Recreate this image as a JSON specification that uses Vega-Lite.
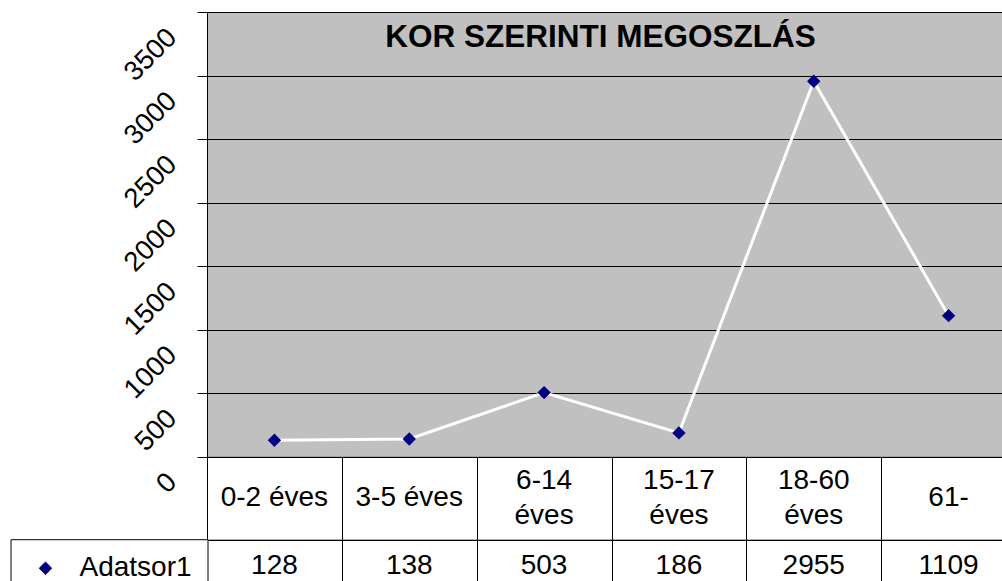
{
  "$schema": "https://vega.github.io/schema/vega-lite/v6.json",
  "background": "white",
  "padding": {"left": 10, "top": 11, "right": 0, "bottom": 0},
  "spacing": 0,
  "bounds": "flush",
  "datasets": {
    "kor": [
      {"korcsoport": "0-2 éves", "felirat": "0-2 éves", "fo": 128},
      {"korcsoport": "3-5 éves", "felirat": "3-5 éves", "fo": 138},
      {"korcsoport": "6-14 éves", "felirat": "6-14\néves", "fo": 503},
      {"korcsoport": "15-17 éves", "felirat": "15-17\néves", "fo": 186},
      {"korcsoport": "18-60 éves", "felirat": "18-60\néves", "fo": 2955},
      {"korcsoport": "61-", "felirat": "61-", "fo": 1109}
    ]
  },
  "vconcat": [
    {
      "width": 809,
      "height": 444.5,
      "data": {"name": "kor"},
      "view": {"fill": "#C0C0C0", "stroke": "#808080", "strokeWidth": 1},
      "title": {
        "text": "KOR SZERINTI MEGOSZLÁS",
        "font": "Liberation Sans",
        "fontSize": 31.5,
        "fontWeight": "bold",
        "color": "black",
        "anchor": "middle",
        "frame": "group",
        "baseline": "alphabetic",
        "offset": -66.5,
        "dx": -11
      },
      "encoding": {
        "x": {
          "field": "korcsoport",
          "type": "nominal",
          "sort": null,
          "scale": {"type": "band", "paddingInner": 0, "paddingOuter": 0, "domain": ["0-2 éves", "3-5 éves", "6-14 éves", "15-17 éves", "18-60 éves", "61-"]},
          "axis": null
        },
        "y": {
          "field": "fo",
          "type": "quantitative",
          "scale": {"domain": [0, 3500], "nice": false, "zero": true},
          "axis": {
            "values": [0, 500, 1000, 1500, 2000, 2500, 3000, 3500],
            "format": "d",
            "title": null,
            "domain": true,
            "domainColor": "black",
            "domainWidth": 1,
            "ticks": true,
            "tickSize": 10,
            "tickColor": "black",
            "tickWidth": 1,
            "grid": true,
            "gridColor": "black",
            "gridOpacity": 1,
            "gridWidth": 1,
            "labelAngle": -45,
            "labelAlign": "right",
            "labelBaseline": "middle",
            "labelFont": "Liberation Sans",
            "labelFontSize": 27.5,
            "labelColor": "black",
            "labelPadding": 25,
            "labelOffset": 21,
            "labelOverlap": false,
            "labelFlush": false,
            "labelBound": false
          }
        }
      },
      "layer": [
        {"mark": {"type": "line", "color": "white", "strokeWidth": 3}},
        {
          "mark": {"type": "point", "shape": "diamond", "filled": true, "size": 180, "opacity": 1},
          "encoding": {
            "color": {
              "datum": "Adatsor1",
              "scale": {"range": ["#000080"]},
              "legend": {
                "orient": "none",
                "legendX": -196.5,
                "legendY": 527.2,
                "title": null,
                "labelFont": "Liberation Sans",
                "labelFontSize": 28,
                "labelColor": "black",
                "labelLimit": 300,
                "symbolType": "diamond",
                "symbolSize": 180,
                "symbolStrokeWidth": 0,
                "symbolOpacity": 1,
                "strokeColor": "black",
                "fillColor": "white",
                "padding": 15,
                "symbolOffset": 6,
                "labelOffset": 20
              }
            }
          }
        }
      ]
    },
    {
      "width": 809,
      "height": 82.7,
      "data": {"name": "kor"},
      "view": {"stroke": "black", "strokeWidth": 1, "fill": "white"},
      "encoding": {
        "x": {
          "field": "korcsoport",
          "type": "nominal",
          "sort": null,
          "scale": {"type": "band", "paddingInner": 0, "paddingOuter": 0, "domain": ["0-2 éves", "3-5 éves", "6-14 éves", "15-17 éves", "18-60 éves", "61-"]},
          "axis": {
            "orient": "top",
            "title": null,
            "labels": false,
            "ticks": false,
            "domain": false,
            "grid": true,
            "gridColor": "black",
            "gridOpacity": 1,
            "gridWidth": 1,
            "tickBand": "extent"
          }
        },
        "text": {"field": "felirat", "type": "nominal"}
      },
      "layer": [
        {
          "transform": [{"filter": "indexof(datum.felirat, '\\n') < 0"}],
          "mark": {
            "type": "text",
            "font": "Liberation Sans",
            "fontSize": 28,
            "color": "black",
            "baseline": "middle",
            "align": "center"
          }
        },
        {
          "transform": [{"filter": "indexof(datum.felirat, '\\n') >= 0"}],
          "mark": {
            "type": "text",
            "font": "Liberation Sans",
            "fontSize": 28,
            "color": "black",
            "lineBreak": "\n",
            "lineHeight": 35,
            "baseline": "middle",
            "align": "center",
            "dy": -17.5
          }
        }
      ]
    },
    {
      "width": 809,
      "height": 52,
      "data": {"name": "kor"},
      "view": {"stroke": "black", "strokeWidth": 1, "fill": "white"},
      "mark": {
        "type": "text",
        "font": "Liberation Sans",
        "fontSize": 28,
        "color": "black",
        "baseline": "middle",
        "align": "center"
      },
      "encoding": {
        "x": {
          "field": "korcsoport",
          "type": "nominal",
          "sort": null,
          "scale": {"type": "band", "paddingInner": 0, "paddingOuter": 0, "domain": ["0-2 éves", "3-5 éves", "6-14 éves", "15-17 éves", "18-60 éves", "61-"]},
          "axis": {
            "orient": "top",
            "title": null,
            "labels": false,
            "ticks": false,
            "domain": false,
            "grid": true,
            "gridColor": "black",
            "gridOpacity": 1,
            "gridWidth": 1,
            "tickBand": "extent"
          }
        },
        "text": {"field": "fo", "type": "quantitative", "format": "d"}
      }
    }
  ]
}
